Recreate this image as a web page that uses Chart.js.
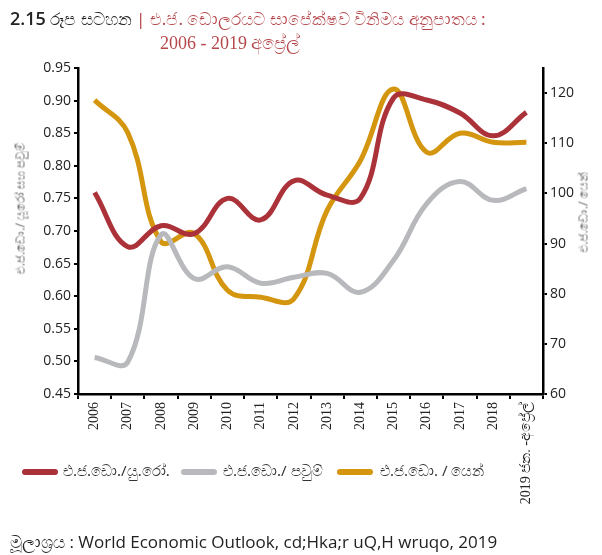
<!DOCTYPE html>
<html>
<head>
<meta charset="utf-8">
<script src="https://cdn.jsdelivr.net/npm/chart.js@4.4.1/dist/chart.umd.min.js"></script>
<style>
  body { margin: 0; background: #fff; }
  #wrap { position: relative; width: 602px; height: 555px; overflow: hidden; }
  #myChart { position: absolute; left: 0; top: 0; }
  .title { position: absolute; font-family: "Noto Sans", sans-serif; font-size: 17px; white-space: nowrap; }
  .lg { position: absolute; top: 460px; font-family: "Noto Sans", sans-serif; font-size: 15px; color: #333; white-space: nowrap; }
  .sw { position: absolute; top: 469px; width: 36px; height: 6px; border-radius: 3px; }
  .src { position: absolute; left: 10px; top: 530px; font-family: "Open Sans", "Noto Sans", sans-serif; font-size: 17px; color: #222; white-space: nowrap; }
  .ytitle { position: absolute; font-family: "Noto Sans", sans-serif; font-size: 12px; color: #6e6e6e; white-space: nowrap;
            transform: translate(-50%, -50%) rotate(-90deg); }
</style>
</head>
<body>
<div id="wrap">
  <canvas id="myChart" width="602" height="555"></canvas>
  <div class="title" style="left:10px; top:6px; color:#222;">
    <b style="font-family:'Open Sans',sans-serif; font-weight:600; font-size:18px;">2.15</b> රූප සටහන <span style="color:#b5474b">| එ.ජ. ඩොලරයට සාපේක්ෂව විනිමය අනුපාතය :</span>
  </div>
  <div class="title" style="left:160px; top:33px; color:#b5474b; font-family:'Liberation Serif',serif; font-size:18px;">2006 - 2019 අප්‍රේල්</div>

  <div class="ytitle" style="left:20px; top:208px;">එ.ජ.ඩො./ යූරෝ සහ පවුම්</div>
  <div class="ytitle" style="left:583px; top:212px;">එ.ජ.ඩො./ යෙන්</div>

  <div class="sw" style="left:22px; background:#ab3239"></div>
  <div class="lg" style="left:63px;">එ.ජ.ඩො./යු.රෝ.</div>
  <div class="sw" style="left:181px; background:#b8b9bc"></div>
  <div class="lg" style="left:223px;">එ.ජ.ඩො./ පවුම්</div>
  <div class="sw" style="left:337px; background:#d4950f"></div>
  <div class="lg" style="left:380px;">එ.ජ.ඩො. / යෙන්</div>

  <div class="src">මූලාශ්‍රය : World Economic Outlook, cd;Hka;r uQ,H wruqo, 2019</div>
</div>
<script>
const years = ["2006", "2007", "2008", "2009", "2010", "2011", "2012", "2013",
               "2014", "2015", "2016", "2017", "2018", "2019 ජන. -අප්‍රේල්"];
const usdEur = [0.759, 0.676, 0.708, 0.696, 0.750, 0.717, 0.777, 0.755,
                0.750, 0.904, 0.901, 0.881, 0.846, 0.882];
const usdGbp = [0.506, 0.499, 0.694, 0.627, 0.645, 0.620, 0.629, 0.635,
                0.606, 0.655, 0.742, 0.776, 0.747, 0.765];
const usdJpy = [118.6, 112.1, 90.4, 92.0, 80.7, 79.3, 79.0, 96.6,
                106.5, 120.8, 108.2, 112.0, 110.2, 110.2];
const leftTicks = { min: 0.45, max: 0.95, step: 0.05 };
const rightTicks = { min: 60, max: 125, step: 10 };

const ctx = document.getElementById('myChart').getContext('2d');
const axisFont = { family: "'Open Sans', 'Noto Sans', sans-serif", size: 14 };

const myChart = new Chart(ctx, {
    type: 'line',
    data: {
        labels: years,
        datasets: [{
            label: 'එ.ජ.ඩො./යු.රෝ.',
            data: usdEur,
            yAxisID: 'y',
            borderColor: '#ab3239',
            borderWidth: 5,
            pointRadius: 0,
            tension: 0.4
        }, {
            label: 'එ.ජ.ඩො./ පවුම්',
            data: usdGbp,
            yAxisID: 'y',
            borderColor: '#b8b9bc',
            borderWidth: 5,
            pointRadius: 0,
            tension: 0.4
        }, {
            label: 'එ.ජ.ඩො. / යෙන්',
            data: usdJpy,
            yAxisID: 'y1',
            borderColor: '#d4950f',
            borderWidth: 5,
            pointRadius: 0,
            tension: 0.4
        }]
    },
    options: {
        responsive: false,
        animation: false,
        layout: { padding: { top: 68, left: 0, right: 0, bottom: 0 } },
        plugins: { legend: { display: false }, tooltip: { enabled: false } },
        scales: {
            x: {
                offset: true,
                grid: { offset: true, drawOnChartArea: false, color: '#000', tickLength: 5, lineWidth: 2 },
                border: { color: '#000', width: 2.5 },
                ticks: {
                    minRotation: 90, maxRotation: 90, autoSkip: false,
                    color: '#222',
                    font: { family: "'Liberation Serif', serif", size: 14 }
                },
                afterFit: (s) => { s.height = 161; }
            },
            y: {
                position: 'left',
                min: leftTicks.min, max: leftTicks.max,
                grid: { drawOnChartArea: false, color: '#000', tickLength: 4, lineWidth: 2 },
                border: { color: '#000', width: 2.5 },
                ticks: {
                    stepSize: leftTicks.step, color: '#222', font: axisFont, padding: 3,
                    callback: (v) => v.toFixed(2)
                },
                afterFit: (s) => { s.width = 78; }
            },
            y1: {
                position: 'right',
                min: rightTicks.min, max: rightTicks.max,
                grid: { drawOnChartArea: false, color: '#000', tickLength: 4, lineWidth: 2 },
                border: { color: '#000', width: 2.5 },
                ticks: {
                    stepSize: rightTicks.step, includeBounds: false, color: '#222', font: axisFont, padding: 3
                },
                afterFit: (s) => { s.width = 59; }
            }
        }
    }
});
</script>
</body>
</html>
